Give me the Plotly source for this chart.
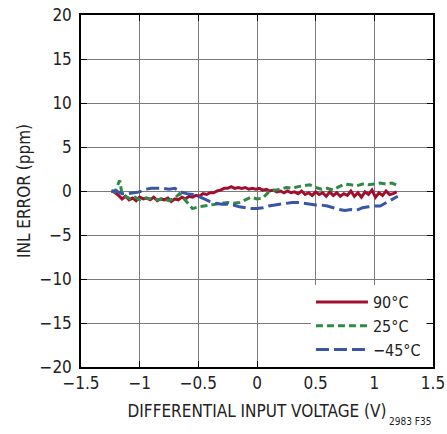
import plotly.graph_objects as go

# =============================================================================
# data
# =============================================================================

v_90 = [-1.24, -1.21, -1.18, -1.15, -1.12, -1.09, -1.06, -1.03, -1.00, -0.97,
        -0.94, -0.91, -0.88, -0.85, -0.82, -0.79, -0.76, -0.73, -0.70, -0.67,
        -0.64, -0.61, -0.58, -0.55, -0.52, -0.49, -0.46, -0.43, -0.40, -0.37,
        -0.34, -0.31, -0.28, -0.25, -0.22, -0.19, -0.16, -0.13, -0.10, -0.07,
        -0.04, -0.01, 0.02, 0.05, 0.08, 0.11, 0.14, 0.17, 0.20, 0.23,
        0.26, 0.29, 0.32, 0.35, 0.38, 0.41, 0.44, 0.47, 0.50, 0.53,
        0.56, 0.59, 0.62, 0.65, 0.68, 0.71, 0.74, 0.77, 0.80, 0.83,
        0.86, 0.89, 0.92, 0.95, 0.98, 1.01, 1.04, 1.07, 1.10, 1.13,
        1.16, 1.19]
inl_90 = [0.0, -0.2, -0.5, -0.9, -0.6, -1.0, -0.8, -1.1, -0.7, -0.9,
          -0.8, -1.0, -0.7, -1.1, -0.9, -1.0, -0.8, -1.2, -0.9, -1.0,
          -0.7, -0.9, -0.6, -0.7, -0.5, -0.6, -0.3, -0.4, -0.2, -0.2,
          0.0, 0.1, 0.3, 0.3, 0.5, 0.3, 0.4, 0.3, 0.4, 0.2,
          0.3, 0.2, 0.3, 0.1, 0.2, 0.0, 0.1, -0.1, 0.0, -0.2,
          0.0, -0.2, -0.1, -0.3, 0.0, -0.4, -0.2, -0.5, -0.1, -0.4,
          -0.2, -0.6, -0.1, -0.5, -0.2, -0.6, -0.3, -0.5, 0.0, -0.6,
          -0.2, -0.7, -0.1, -0.4, 0.1, -0.7, -0.2, -0.5, 0.0, -0.4,
          -0.3, -0.1]

v_25 = [-1.24, -1.21, -1.19, -1.17, -1.15, -1.12, -1.08, -1.04, -1.00, -0.95,
        -0.90, -0.85, -0.80, -0.75, -0.70, -0.66, -0.62, -0.58, -0.55, -0.50,
        -0.45, -0.40, -0.35, -0.30, -0.25, -0.20, -0.15, -0.10, -0.05, 0.00,
        0.05, 0.10, 0.15, 0.20, 0.25, 0.30, 0.35, 0.40, 0.45, 0.50,
        0.55, 0.60, 0.65, 0.70, 0.75, 0.80, 0.85, 0.90, 0.95, 1.00,
        1.05, 1.10, 1.15, 1.20]
inl_25 = [0.0, -0.1, 0.6, 1.2, -0.4, -0.6, -0.9, -0.7, -1.0, -0.8,
          -0.9, -1.0, -0.9, -1.1, -0.8, -0.3, -0.9, -1.6, -2.0, -1.8,
          -1.7, -1.6, -1.5, -1.4, -1.3, -1.4, -1.3, -1.0, -0.7, -0.9,
          -0.8, -0.1, 0.1, 0.2, 0.4, 0.3, 0.5, 0.6, 0.7, 0.4,
          0.2, 0.3, 0.1, 0.5, 0.8, 0.7, 0.6, 0.8, 0.7, 0.8,
          0.9, 0.8, 0.9, 0.6]

v_m45 = [-1.24, -1.20, -1.15, -1.10, -1.05, -1.00, -0.95, -0.90, -0.85, -0.80,
         -0.75, -0.70, -0.65, -0.60, -0.55, -0.50, -0.45, -0.40, -0.35, -0.30,
         -0.25, -0.20, -0.15, -0.10, -0.05, 0.00, 0.05, 0.10, 0.15, 0.20,
         0.25, 0.30, 0.35, 0.40, 0.45, 0.50, 0.55, 0.60, 0.65, 0.70,
         0.75, 0.80, 0.85, 0.90, 0.95, 1.00, 1.05, 1.10, 1.15, 1.20]
inl_m45 = [0.0, 0.0, -0.3, -0.3, -0.2, -0.1, 0.2, 0.3, 0.3, 0.3,
           0.2, 0.3, -0.1, -0.3, -0.4, -0.6, -0.9, -1.2, -1.4, -1.5,
           -1.5, -1.6, -1.8, -1.9, -2.0, -2.0, -1.9, -1.7, -1.6, -1.5,
           -1.4, -1.3, -1.3, -1.4, -1.5, -1.6, -1.6, -1.7, -1.9, -2.1,
           -2.2, -2.1, -2.2, -1.9, -1.8, -1.7, -1.7, -1.3, -1.0, -0.6]

x_ticks = [-1.5, -1, -0.5, 0, 0.5, 1, 1.5]
x_tick_text = ['\u22121.5', '\u22121', '\u22120.5', '0', '0.5', '1', '1.5']
y_ticks = [-20, -15, -10, -5, 0, 5, 10, 15, 20]
y_tick_text = ['\u221220', '\u221215', '\u221210', '\u22125', '0', '5', '10', '15', '20']

FONT = 'DejaVu Sans Condensed, Liberation Sans Narrow, sans-serif'

fig = go.Figure()

fig.add_trace(go.Scatter(x = v_90, y = inl_90, mode = 'lines', name = '90°C',
                         line = dict(color = '#a0102e', width = 3)))
fig.add_trace(go.Scatter(x = v_25, y = inl_25, mode = 'lines', name = '25°C',
                         line = dict(color = '#2f8a48', width = 3, dash = '7px,4px')))
fig.add_trace(go.Scatter(x = v_m45, y = inl_m45, mode = 'lines', name = '\u221245°C',
                         line = dict(color = '#3a55a8', width = 3, dash = '13px,5px')))

axis_style = dict(
    showgrid = True, gridcolor = '#7a7a7a', gridwidth = 1,
    showline = True, linecolor = 'black', linewidth = 1.5, mirror = 'ticks',
    ticks = 'inside', ticklen = 6, tickcolor = 'black', tickwidth = 1,
    zeroline = False, automargin = False, tickfont = dict(size = 17, color = '#222')
)

fig.update_xaxes(range = [-1.5, 1.5], tickvals = x_ticks, ticktext = x_tick_text,
                 title = dict(text = 'DIFFERENTIAL INPUT VOLTAGE (V)', font = dict(size = 17, color = '#222'),
                              standoff = 13),
                 **axis_style)
fig.update_yaxes(range = [-20, 20], tickvals = y_ticks, ticktext = y_tick_text,
                 ticklabelstandoff = 4,
                 title = dict(text = 'INL ERROR (ppm)', font = dict(size = 17, color = '#222'),
                              standoff = 5),
                 **axis_style)

fig.add_annotation(text = '2983 F35', x = 1, y = 0, xref = 'paper', yref = 'paper',
                   xanchor = 'right', yanchor = 'top', yshift = -47, showarrow = False,
                   font = dict(size = 10, color = '#222'))

fig.update_layout(
    width = 447, height = 434,
    margin = dict(l = 81, r = 14, t = 15, b = 67),
    plot_bgcolor = 'white', paper_bgcolor = 'white',
    font = dict(family = FONT, size = 17, color = '#222'),
    showlegend = True,
    legend = dict(x = 0.98, y = 0, xanchor = 'right', yanchor = 'bottom',
                  bgcolor = 'white', borderwidth = 0, itemwidth = 52,
                  font = dict(size = 16), tracegroupgap = 0)
)

# drop the page's default body margin so the figure sits at the window's corner
fig.write_html("out.html", config = {'displayModeBar': False},
               post_script = "document.body.style.margin = '0';")
